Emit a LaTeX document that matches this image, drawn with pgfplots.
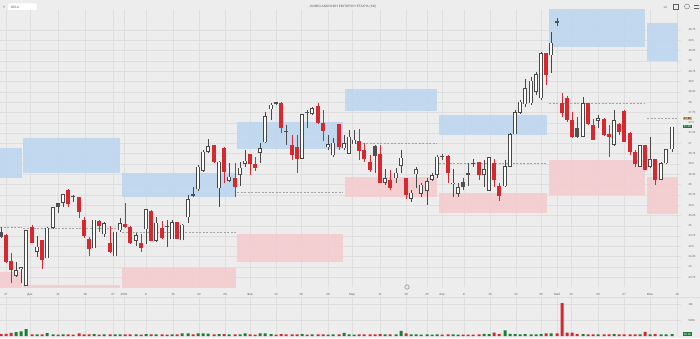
\documentclass[border=0pt]{standalone}
\usepackage{fontspec}
\setmainfont{Liberation Sans}
\usepackage{pgfplots}
\usepackage{pgfplotstable}
\pgfplotsset{compat=1.18}
\definecolor{bgc}{RGB}{237,237,237}
\definecolor{gridc}{RGB}{222,222,222}
\definecolor{redc}{RGB}{214,40,47}
\definecolor{hollc}{RGB}{72,72,72}
\definecolor{darkc}{RGB}{80,80,80}
\definecolor{greenc}{RGB}{28,125,55}
\definecolor{bluez}{RGB}{189,214,240}
\definecolor{pinkz}{RGB}{244,204,208}
\definecolor{labc}{RGB}{95,95,95}
\definecolor{dashc}{RGB}{165,165,165}
\definecolor{tagy}{RGB}{214,180,96}

\pgfplotstableread{
x O H L C
6 24.77 24.81 24.09 24.13
11 24.14 24.33 23.60 23.92
32 24.96 25.01 24.57 24.59
42 24.65 24.65 23.94 24.17
68 25.87 25.88 25.46 25.53
79 25.70 25.70 25.18 25.34
84 25.15 25.22 24.69 24.76
89 24.67 24.73 24.27 24.43
99 25.11 25.14 24.85 24.99
110 24.59 24.99 24.33 24.37
125 25.04 25.54 24.94 24.96
130 24.98 24.99 24.56 24.59
141 24.57 24.81 24.37 24.45
151 25.36 25.38 24.62 24.64
162 24.95 25.11 24.67 24.69
177 25.08 25.08 24.67 24.67
214 26.96 26.97 26.51 26.55
224 26.89 26.92 26.03 26.31
235 26.15 26.53 25.70 25.95
250 26.74 26.75 26.23 26.50
255 26.50 26.67 26.33 26.41
281 27.98 28.01 27.24 27.38
292 26.96 27.20 26.59 26.71
297 26.90 27.20 26.27 26.63
318 27.90 27.97 27.47 27.50
323 27.50 27.81 27.05 27.30
339 27.46 27.48 26.84 26.92
359 27.05 27.34 26.59 26.82
364 26.84 27.01 26.55 26.63
370 26.55 26.71 26.31 26.35
380 26.75 26.96 26.03 26.03
390 26.11 26.35 25.86 25.91
406 26.15 26.15 25.66 25.74
448 26.69 26.71 26.03 26.27
479 26.55 26.55 26.11 26.23
494 26.53 26.63 25.94 26.11
499 25.97 26.03 25.60 25.72
546 29.18 29.18 28.41 28.66
562 27.97 28.23 27.64 27.74
567 28.09 28.15 27.52 27.56
572 27.56 27.76 27.14 27.16
588 27.97 27.97 27.44 27.47
593 27.44 27.60 27.08 27.09
604 27.60 27.62 27.17 27.20
609 27.22 27.44 26.67 27.16
619 27.48 27.50 27.20 27.28
624 27.79 27.81 27.04 27.04
630 27.26 27.28 26.71 26.79
635 26.79 26.84 26.43 26.50
645 26.96 26.96 26.35 26.35
655 26.61 26.61 25.99 26.11
}\tRed

\pgfplotstableread{
x O H L C
1 24.85 24.98 24.69 24.73
58 25.54 25.56 25.30 25.46
73 25.72 25.74 25.58 25.69
167 24.99 25.14 24.49 24.96
193 25.76 25.93 25.70 25.72
276 27.99 28.01 27.93 27.96
286 27.30 27.44 26.96 27.27
307 27.77 27.82 27.36 27.74
375 26.93 26.96 26.27 26.69
442 26.69 26.73 26.59 26.66
463 26.05 26.15 25.86 25.94
468 26.27 26.51 25.96 26.24
473 26.53 26.63 26.43 26.50
557 29.96 30.04 29.84 29.92
577 27.38 27.63 27.14 27.16
}\tDark

\pgfplotstableread{
x O H L C
16 23.78 24.13 23.76 23.92
21 23.94 24.00 23.60 23.99
26 23.54 24.89 23.54 24.89
37 24.37 24.75 24.25 24.49
47 24.21 24.97 24.21 24.95
53 24.95 25.45 24.93 25.45
63 25.56 25.77 25.46 25.76
94 24.45 25.15 24.45 25.15
104 24.79 25.10 24.72 25.06
115 24.26 24.85 24.26 24.85
120 24.89 25.18 24.85 25.06
136 24.64 24.83 24.51 24.77
146 24.91 25.40 24.55 25.40
156 24.64 25.20 24.61 25.07
172 24.67 25.14 24.67 25.08
182 24.65 25.04 24.65 25.02
188 25.20 25.74 25.06 25.64
198 25.88 26.47 25.83 26.43
203 26.33 26.84 26.31 26.80
208 26.80 27.10 26.77 26.93
219 25.91 26.57 25.46 26.55
229 26.09 26.53 26.07 26.19
240 26.23 26.55 25.96 26.41
245 26.50 26.84 26.43 26.58
260 26.77 27.01 26.53 26.88
265 27.02 27.77 27.00 27.66
271 27.83 27.97 27.56 27.94
302 26.63 27.70 26.63 27.70
312 27.71 27.89 27.69 27.85
328 26.90 27.20 26.84 26.98
333 26.71 27.14 26.67 27.01
344 26.88 27.20 26.84 27.00
349 26.75 27.32 26.75 27.16
354 26.98 27.32 26.98 27.09
385 26.04 26.37 25.99 26.15
396 26.15 26.39 26.03 26.29
401 26.45 26.84 26.27 26.65
411 25.66 25.86 25.58 25.80
416 26.25 26.43 25.91 26.37
421 25.77 26.03 25.70 25.99
427 25.85 26.15 25.50 26.08
432 26.12 26.27 26.09 26.23
437 26.23 26.71 26.15 26.67
453 26.00 26.37 25.70 26.04
458 25.77 26.03 25.70 25.94
484 26.23 26.59 25.94 26.37
489 25.85 26.66 25.85 26.66
505 25.96 26.59 25.94 26.45
510 26.43 27.24 26.43 27.22
515 27.22 27.82 27.22 27.75
520 27.74 28.05 27.72 28.01
525 27.95 28.57 27.89 28.33
531 27.97 28.61 27.93 28.52
536 28.25 28.74 28.17 28.68
541 28.09 29.22 28.05 29.18
551 29.14 29.71 28.70 29.44
583 27.16 28.13 27.16 27.97
598 27.55 27.68 27.36 27.61
614 26.96 27.81 26.93 27.56
640 26.43 26.96 26.43 26.96
650 26.43 27.16 26.39 26.61
661 26.11 26.55 26.11 26.51
666 26.51 26.85 26.50 26.85
672 26.85 27.40 26.80 27.40
}\tHol

\pgfplotstableread{
x v
16 120
21 150
26 220
37 50
47 90
53 55
63 50
94 60
104 50
115 55
120 50
136 50
146 60
156 50
172 50
182 80
188 80
198 85
203 80
208 75
219 60
229 50
240 55
245 80
260 80
265 85
271 60
302 60
312 50
328 45
333 50
344 100
349 50
354 45
385 50
396 50
401 160
411 50
416 50
421 45
427 50
432 45
437 55
453 50
458 45
484 70
489 60
505 180
510 70
515 60
520 55
525 60
531 55
536 50
541 60
551 80
583 60
598 50
614 60
640 55
650 50
661 55
666 50
672 60
}\vG

\pgfplotstableread{
x v
1 60
6 70
11 100
32 55
42 50
58 45
68 50
73 45
79 80
84 50
89 50
99 45
110 50
125 50
130 50
141 45
151 55
162 50
167 45
177 50
193 50
214 55
224 60
235 50
250 50
255 45
276 45
281 60
286 50
292 55
297 50
307 45
318 50
323 50
339 55
359 50
364 50
370 50
375 50
380 60
390 50
406 80
442 45
448 55
463 45
468 45
473 45
479 50
494 110
499 60
546 80
557 80
562 1040
567 110
572 110
577 60
588 55
593 50
604 50
609 55
619 50
624 55
630 55
635 50
645 130
655 60
}\vR

\begin{document}
\begin{tikzpicture}
\useasboundingbox (0,0) rectangle (700pt,338pt);
\fill[bgc] (0,0) rectangle (700pt,338pt);

% header
\node[font=\fontsize{3.2}{3.6}\selectfont, text=labc] at (343pt,331pt) {JUMBO ΑΝΩΝΥΜΗ ΕΜΠΟΡΙΚΗ ΕΤΑΙΡΙΑ (ΚΟ)};
\draw[fill=white, draw=gridc, line width=0.3pt, rounded corners=1pt] (8pt,326pt) rectangle (37pt,335pt);
\node[font=\fontsize{3.2}{3.6}\selectfont, text=labc, anchor=west, inner sep=0pt] at (11pt,330.5pt) {BELA};
\node[font=\fontsize{4}{4}\selectfont, text=labc, inner sep=0pt] at (4pt,330.5pt) {<};
\node[font=\fontsize{2.8}{3}\selectfont, text=greenc, anchor=west, inner sep=0pt] at (1pt,322pt) {27.40 BELA +0.34 (+1.26\%)};
\node[font=\fontsize{3}{3}\selectfont, text=labc, inner sep=0pt] at (665pt,331pt) {14};
\draw[labc, line width=0.3pt] (673pt,329pt) rectangle (678pt,334pt);
\draw[labc, line width=0.3pt] (687pt,331.5pt) circle (2.5pt);
\draw[labc, line width=0.3pt] (694pt,330pt) -- (699pt,330pt) (694pt,333pt) -- (699pt,333pt);

\begin{axis}[
  at={(0pt,51pt)}, anchor=south west,
  width=681pt, height=277pt, scale only axis,
  xmin=0, xmax=681, ymin=23.512, ymax=30.235,
  clip mode=individual,
  axis line style={draw=none},
  tick style={draw=none},
  axis background/.style={fill=bgc},
  grid=major, grid style={draw=gridc, line width=0.35pt},
  xtick={6,30,58,85,113,124,146,173,199,225,250,276,301,328,352,380,406,427,442,464,490,516,541,557,571,598,624,650,677},
  xticklabels={27,Дек,11,18,27,2024,8,15,22,29,Фев,12,19,26,Мар,11,18,25,Апр,8,15,22,29,Май,13,20,27,Июн,10},
  ytick={23.75,24,24.25,24.5,24.75,25,25.25,25.5,25.75,26,26.25,26.5,26.75,27,27.25,27.5,27.75,28,28.25,28.5,28.75,29,29.25,29.5,29.75},
  yticklabel pos=right,
  /pgf/number format/assume math mode=true,
  yticklabel style={/pgf/number format/fixed, /pgf/number format/precision=2, font=\fontsize{2.8}{3}\selectfont, text=labc, xshift=4pt},
  xticklabel style={font=\fontsize{3}{3.5}\selectfont, text=labc, yshift=-2.5pt},
]
% zones
\addplot[fill=bluez, draw=none, fill opacity=0.9] coordinates {(0,26.16) (22,26.16) (22,26.89) (0,26.89)} --cycle;
\addplot[fill=bluez, draw=none, fill opacity=0.9] coordinates {(23,26.28) (120,26.28) (120,27.13) (23,27.13)} --cycle;
\addplot[fill=bluez, draw=none, fill opacity=0.9] coordinates {(122,25.70) (236,25.70) (236,26.28) (122,26.28)} --cycle;
\addplot[fill=bluez, draw=none, fill opacity=0.9] coordinates {(237,26.86) (343,26.86) (343,27.52) (237,27.52)} --cycle;
\addplot[fill=bluez, draw=none, fill opacity=0.9] coordinates {(345,27.78) (437,27.78) (437,28.32) (345,28.32)} --cycle;
\addplot[fill=bluez, draw=none, fill opacity=0.9] coordinates {(439,27.20) (547,27.20) (547,27.69) (439,27.69)} --cycle;
\addplot[fill=bluez, draw=none, fill opacity=0.9] coordinates {(549,29.34) (645,29.34) (645,30.40) (549,30.40)} --cycle;
\addplot[fill=bluez, draw=none, fill opacity=0.9] coordinates {(647,29.00) (678,29.00) (678,29.92) (647,29.92)} --cycle;
\addplot[fill=pinkz, draw=none, fill opacity=0.9] coordinates {(0,23.00) (22,23.00) (22,23.88) (0,23.88)} --cycle;
\addplot[fill=pinkz, draw=none, fill opacity=0.9] coordinates {(23,23.00) (120,23.00) (120,23.56) (23,23.56)} --cycle;
\addplot[fill=pinkz, draw=none, fill opacity=0.9] coordinates {(122,23.00) (236,23.00) (236,23.97) (122,23.97)} --cycle;
\addplot[fill=pinkz, draw=none, fill opacity=0.9] coordinates {(237,24.12) (343,24.12) (343,24.80) (237,24.80)} --cycle;
\addplot[fill=pinkz, draw=none, fill opacity=0.9] coordinates {(345,25.70) (437,25.70) (437,26.18) (345,26.18)} --cycle;
\addplot[fill=pinkz, draw=none, fill opacity=0.9] coordinates {(439,25.31) (547,25.31) (547,25.79) (439,25.79)} --cycle;
\addplot[fill=pinkz, draw=none, fill opacity=0.9] coordinates {(549,25.75) (645,25.75) (645,26.60) (549,26.60)} --cycle;
\addplot[fill=pinkz, draw=none, fill opacity=0.9] coordinates {(647,25.28) (678,25.28) (678,26.18) (647,26.18)} --cycle;
% dashed mid lines
\addplot[dashc, line width=0.45pt, dash pattern=on 2pt off 1.5pt] coordinates {(0,24.97) (22,24.97)};
\addplot[dashc, line width=0.45pt, dash pattern=on 2pt off 1.5pt] coordinates {(23,24.94) (120,24.94)};
\addplot[dashc, line width=0.45pt, dash pattern=on 2pt off 1.5pt] coordinates {(122,24.85) (236,24.85)};
\addplot[dashc, line width=0.45pt, dash pattern=on 2pt off 1.5pt] coordinates {(237,25.82) (343,25.82)};
\addplot[dashc, line width=0.45pt, dash pattern=on 2pt off 1.5pt] coordinates {(345,27.01) (437,27.01)};
\addplot[dashc, line width=0.45pt, dash pattern=on 2pt off 1.5pt] coordinates {(439,26.52) (547,26.52)};
\addplot[dashc, line width=0.45pt, dash pattern=on 2pt off 1.5pt] coordinates {(549,27.98) (645,27.98)};
\addplot[dashc, line width=0.45pt, dash pattern=on 2pt off 1.5pt] coordinates {(647,27.61) (678,27.61)};
% wicks
\addplot[redc, line width=0.7pt, quiver={u=0, v=\thisrow{H}-\thisrow{L}}] table[x=x, y=L] \tRed;
\addplot[darkc, line width=0.7pt, quiver={u=0, v=\thisrow{H}-\thisrow{L}}] table[x=x, y=L] \tDark;
\addplot[hollc, line width=0.7pt, quiver={u=0, v=\thisrow{H}-\thisrow{L}}] table[x=x, y=L] \tHol;
% bodies
\addplot[redc, line width=3.7pt, quiver={u=0, v=\thisrow{O}-\thisrow{C}}] table[x=x, y=C] \tRed;
\addplot[darkc, line width=3.7pt, quiver={u=0, v=\thisrow{O}-\thisrow{C}}] table[x=x, y=C] \tDark;
\addplot[hollc, line width=3.7pt, quiver={u=0, v=\thisrow{C}-\thisrow{O}}] table[x=x, y=O] \tHol;
\addplot[white, line width=2.5pt, quiver={u=0, v=\thisrow{C}-\thisrow{O}-0.028}] table[x=x, y expr=\thisrow{O}+0.014] \tHol;
% price tags
\node[fill=tagy, text=black, font=\fontsize{2.8}{3}\selectfont, anchor=west, inner sep=0.7pt] at (axis cs:683,27.60) {27.60};
\node[fill=greenc, text=white, font=\fontsize{2.8}{3}\selectfont, anchor=west, inner sep=0.7pt] at (axis cs:683,27.40) {27.40};
\end{axis}

\draw[labc, line width=0.3pt] (407pt,51pt) circle (2.2pt);
\draw[gridc, line width=0.4pt] (0pt,41pt) -- (700pt,41pt);
\node[font=\fontsize{2.8}{3}\selectfont, text=labc, anchor=west, inner sep=0pt] at (2pt,35pt) {BELA Volume};

\begin{axis}[
  at={(0pt,2pt)}, anchor=south west,
  width=681pt, height=38pt, scale only axis,
  xmin=0, xmax=681, ymin=0, ymax=1200,
  clip mode=individual,
  axis line style={draw=none},
  tick style={draw=none},
  axis background/.style={fill=bgc},
  grid=major, grid style={draw=gridc, line width=0.35pt},
  xtick={6,30,58,85,113,124,146,173,199,225,250,276,301,328,352,380,406,427,442,464,490,516,541,557,571,598,624,650,677},
  xticklabels={},
  ytick={500,1000}, yticklabels={500K,1M},
  yticklabel pos=right,
  yticklabel style={font=\fontsize{2.8}{3}\selectfont, text=labc, xshift=4pt},
]
\addplot[ybar, bar width=3pt, bar shift=0pt, fill=greenc, draw=none] table[x=x, y=v] \vG;
\addplot[ybar, bar width=3pt, bar shift=0pt, fill=redc, draw=none] table[x=x, y=v] \vR;
\node[fill=greenc, text=white, font=\fontsize{2.8}{3}\selectfont, anchor=west, inner sep=0.7pt] at (axis cs:683,60) {58.2K};
\end{axis}
\end{tikzpicture}
\end{document}
